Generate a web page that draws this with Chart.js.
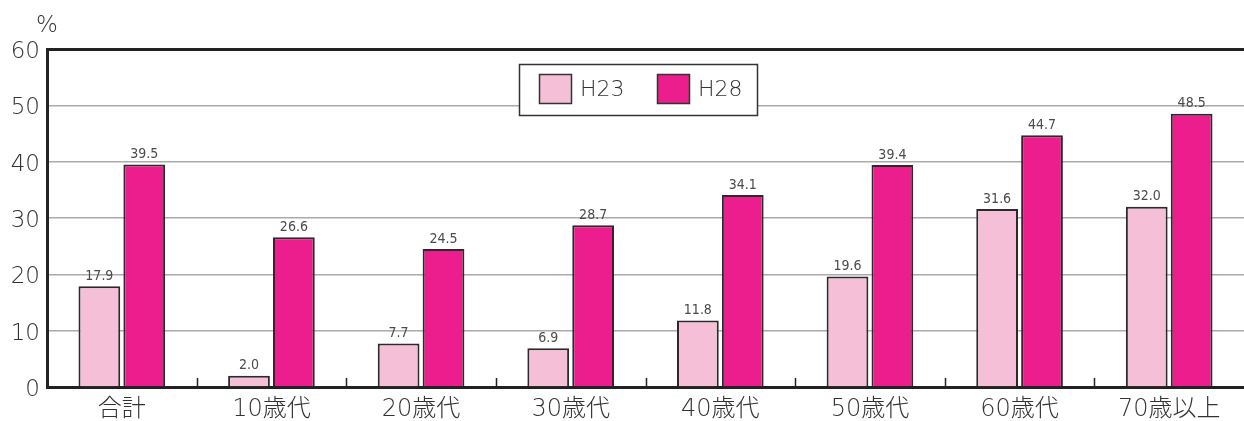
<!DOCTYPE html>
<html>
<head>
<meta charset="utf-8">
<script src="https://cdn.jsdelivr.net/npm/chart.js@4"></script>
<style>
  html, body { margin: 0; padding: 0; background: #fff; }
  canvas { display: block; }
</style>
</head>
<body>
<canvas id="chart" width="1244" height="421"></canvas>
<script>
const categories = ['合計', '10歳代', '20歳代', '30歳代', '40歳代', '50歳代', '60歳代', '70歳以上'];
const h23 = [17.9, 2.0, 7.7, 6.9, 11.8, 19.6, 31.6, 32.0];
const h28 = [39.5, 26.6, 24.5, 28.7, 34.1, 39.4, 44.7, 48.5];
const yTicks = [0, 10, 20, 30, 40, 50, 60];

const FONT = '"DejaVu Sans", "Noto Sans CJK JP", sans-serif';

// value labels above each bar
const valueLabels = {
  id: 'valueLabels',
  afterDatasetsDraw(chart) {
    const ctx = chart.ctx;
    ctx.save();
    ctx.font = '14px "Liberation Sans Narrow", "DejaVu Sans Condensed", sans-serif';
    ctx.fillStyle = '#4a4a4a';
    ctx.textAlign = 'center';
    ctx.textBaseline = 'bottom';
    chart.data.datasets.forEach((ds, i) => {
      chart.getDatasetMeta(i).data.forEach((bar, j) => {
        ctx.fillText(ds.data[j].toFixed(1), bar.x, bar.y - 3);
      });
    });
    ctx.restore();
  }
};

// short ticks between categories, % unit, boxed legend
const extras = {
  id: 'extras',
  afterDraw(chart) {
    const ctx = chart.ctx;
    const x = chart.scales.x;
    const area = chart.chartArea;
    ctx.save();
    ctx.strokeStyle = '#222';
    ctx.lineWidth = 1.5;
    const step = x.getPixelForValue(1) - x.getPixelForValue(0);
    for (let i = 1; i < categories.length; i++) {
      const px = Math.round(x.getPixelForValue(i) - step / 2) + 0.5;
      ctx.beginPath();
      ctx.moveTo(px, area.bottom);
      ctx.lineTo(px, area.bottom - 9);
      ctx.stroke();
    }

    ctx.fillStyle = '#333';
    ctx.font = '200 23px ' + FONT;
    ctx.textAlign = 'center';
    ctx.textBaseline = 'middle';
    ctx.fillText('%', 47, 26);

    // legend box
    const lx = 519, ly = 64, lw = 238, lh = 51;
    ctx.font = '200 22px ' + FONT;
    ctx.fillStyle = '#fff';
    ctx.fillRect(lx, ly, lw, lh);
    ctx.strokeStyle = '#333';
    ctx.lineWidth = 1.5;
    ctx.strokeRect(lx + 0.5, ly + 0.5, lw, lh);
    const items = [[539, chart.data.datasets[0]], [657, chart.data.datasets[1]]];
    items.forEach(([sx, ds]) => {
      ctx.fillStyle = ds.backgroundColor;
      ctx.fillRect(sx, 74, 33, 30);
      ctx.strokeStyle = '#333';
      ctx.lineWidth = 1.5;
      ctx.strokeRect(sx + 0.5, 74.5, 32, 29);
      ctx.fillStyle = '#333';
      ctx.textAlign = 'left';
      ctx.textBaseline = 'middle';
      ctx.fillText(ds.label, sx + 41, 90);
    });
    ctx.restore();
  }
};

new Chart(document.getElementById('chart'), {
  type: 'bar',
  data: {
    labels: categories,
    datasets: [
      {
        label: 'H23',
        data: h23,
        backgroundColor: '#f6bfd8',
        borderColor: '#2a2a2a',
        borderWidth: 2,
        categoryPercentage: 0.6,
        barPercentage: 0.93
      },
      {
        label: 'H28',
        data: h28,
        backgroundColor: '#ec1e8e',
        borderColor: '#2a2a2a',
        borderWidth: 2,
        categoryPercentage: 0.6,
        barPercentage: 0.93
      }
    ]
  },
  options: {
    responsive: false,
    animation: false,
    devicePixelRatio: 1,
    layout: { padding: { top: 49, right: 0, left: 0, bottom: 0 } },
    plugins: {
      legend: { display: false },
      tooltip: { enabled: false }
    },
    scales: {
      x: {
        grid: { display: false },
        border: { display: true, color: '#222', width: 3 },
        ticks: {
          color: '#333',
          font: { family: FONT, size: 24, weight: 200 },
          padding: 0,
          autoSkip: false,
          maxRotation: 0
        },
        afterFit(scale) { scale.height = 34; }
      },
      y: {
        min: 0,
        max: 60,
        afterBuildTicks(scale) { scale.ticks = yTicks.map(v => ({ value: v })); },
        grid: {
          drawTicks: false,
          color: ctx => ctx.tick && ctx.tick.value === 60 ? '#222' : '#aaa',
          lineWidth: ctx => ctx.tick && ctx.tick.value === 60 ? 3 : 1.5
        },
        border: { display: true, color: '#222', width: 3 },
        ticks: {
          color: '#333',
          font: { family: FONT, size: 23, weight: 200 },
          padding: 7,
          labelOffset: 3
        },
        afterFit(scale) { scale.width = 47; }
      }
    }
  },
  plugins: [valueLabels, extras]
});
</script>
</body>
</html>
